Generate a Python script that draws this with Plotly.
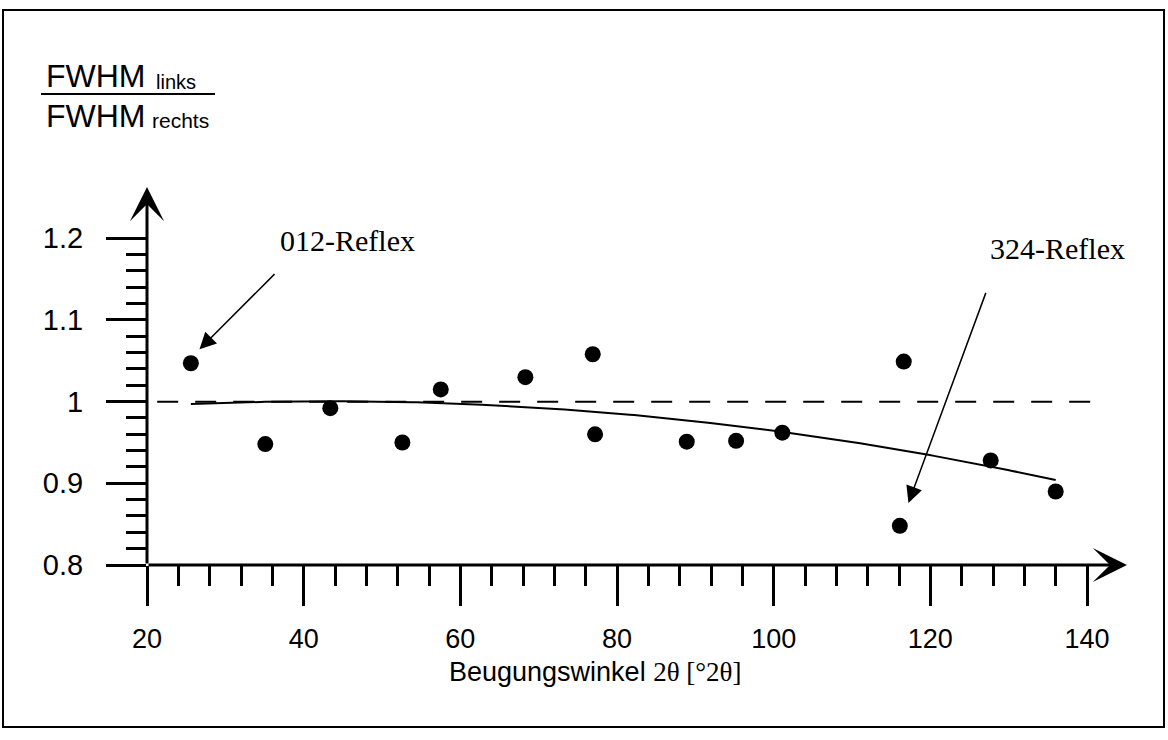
import numpy as np
import plotly.graph_objects as go

# Measured FWHM ratio (left / right half width) versus diffraction angle 2θ
two_theta = [25.6, 35.1, 43.4, 52.6, 57.5, 68.3, 76.9, 77.2, 88.9, 95.2, 101.1,
             116.6, 116.1, 127.7, 136.0]
fwhm_ratio = [1.047, 0.948, 0.992, 0.950, 1.015, 1.030, 1.058, 0.960, 0.951, 0.952,
              0.962, 1.049, 0.848, 0.928, 0.890]

x_major = [20, 40, 60, 80, 100, 120, 140]
x_minor = [24, 28, 32, 36, 44, 48, 52, 56, 64, 68, 72, 76, 84, 88, 92, 96,
           104, 108, 112, 116, 124, 128, 132, 136]
y_major = [0.8, 0.9, 1.0, 1.1, 1.2]
y_major_text = ["0.8", "0.9", "1", "1.1", "1.2"]
y_minor = [0.82, 0.84, 0.86, 0.88, 0.92, 0.94, 0.96, 0.98, 1.02, 1.04, 1.06,
           1.08, 1.12, 1.14, 1.16, 1.18]
reference_level = 1.0
reference_span = [21.3, 141.5]

# second order trend line through the measurements
coef = np.polyfit(two_theta, fwhm_ratio, 2)
trend_x = np.linspace(min(two_theta), max(two_theta), 200)
trend_y = np.polyval(coef, trend_x)

W, H = 1168, 740
L, R, T, B = 147, 41, 187, 175
x_lo, x_hi = 20, 145.1
y_lo, y_hi = 0.8, 1.2628


def px_x(p):
    return (p - L) / (W - L - R)


def px_y(p):
    return (H - B - p) / (H - B - T)


fig = go.Figure()

fig.add_trace(go.Scatter(
    x=reference_span, y=[reference_level, reference_level], mode="lines",
    line=dict(color="black", width=2, dash="21px,17px"), hoverinfo="skip"))

fig.add_trace(go.Scatter(
    x=trend_x, y=trend_y, mode="lines",
    line=dict(color="black", width=2), hoverinfo="skip"))

fig.add_trace(go.Scatter(
    x=two_theta, y=fwhm_ratio, mode="markers",
    marker=dict(color="black", size=16, line=dict(width=0))))

sans = "Arial, Liberation Sans, sans-serif"
serif = "Times New Roman, Liberation Serif, serif"

fig.update_xaxes(
    range=[x_lo, x_hi], showgrid=False, zeroline=False, showline=False,
    tickmode="array", tickvals=x_major, ticktext=[str(v) for v in x_major],
    ticks="outside", ticklen=40, tickwidth=3, tickcolor="black",
    tickfont=dict(family=sans, size=27, color="black"), ticklabelstandoff=10,
    minor=dict(tickmode="array", tickvals=x_minor, ticks="outside",
               ticklen=20, tickwidth=3, tickcolor="black", showgrid=False))

fig.update_yaxes(
    range=[y_lo, y_hi], showgrid=False, zeroline=False, showline=False,
    tickmode="array", tickvals=y_major, ticktext=y_major_text,
    ticks="outside", ticklen=40, tickwidth=3, tickcolor="black",
    tickfont=dict(family=sans, size=29, color="black"), ticklabelstandoff=17,
    minor=dict(tickmode="array", tickvals=y_minor, ticks="outside",
               ticklen=20, tickwidth=3, tickcolor="black", showgrid=False))


def label(px, py, text, family, size, xanchor="center"):
    return dict(x=px_x(px), y=px_y(py), xref="paper", yref="paper", text=text,
                xanchor=xanchor, yanchor="middle", showarrow=False,
                font=dict(family=family, size=size, color="black"))


def arrow(x, y, ax, ay, width, size, head):
    return dict(x=x, y=y, ax=ax, ay=ay, xref="x", yref="y", axref="x", ayref="y",
                text="", showarrow=True, arrowhead=head, arrowsize=size,
                arrowwidth=width, arrowcolor="black", standoff=0)


annotations = [
    # axes with arrow heads
    arrow(x_hi, y_lo, x_lo, y_lo, 3, 1.9, 3),
    arrow(x_lo, y_hi, x_lo, y_lo, 3, 1.9, 3),
    # pointer arrows to the labelled reflections
    arrow(26.7, 1.064, 36.47, 1.158, 1.5, 2.2, 2),
    arrow(117.2, 0.876, 127.15, 1.135, 1.5, 2.2, 2),
    label(347, 240, "012-Reflex", serif, 30),
    label(1057, 248, "324-Reflex", serif, 30),
    # y axis quantity as a fraction
    label(44, 76, "FWHM", sans, 32, "left"),
    label(154, 82, "links", sans, 20, "left"),
    label(44, 116, "FWHM", sans, 32, "left"),
    label(150, 121, "rechts", sans, 21, "left"),
    # x axis title
    label(595, 672,
          "Beugungswinkel <span style='font-family:Times New Roman, Liberation Serif, serif'>2θ [°2θ]</span>",
          sans, 27),
]

shapes = [
    # fraction bar
    dict(type="line", xref="paper", yref="paper", x0=px_x(41), x1=px_x(215),
         y0=px_y(94), y1=px_y(94), line=dict(color="black", width=2)),
    # outer frame
    dict(type="rect", xref="paper", yref="paper", x0=px_x(3), x1=px_x(1164),
         y0=px_y(727), y1=px_y(10), line=dict(color="black", width=2)),
]

fig.update_layout(
    width=W, height=H, margin=dict(l=L, r=R, t=T, b=B),
    paper_bgcolor="white", plot_bgcolor="white", showlegend=False,
    annotations=annotations, shapes=shapes)

fig.write_html("out.html")
